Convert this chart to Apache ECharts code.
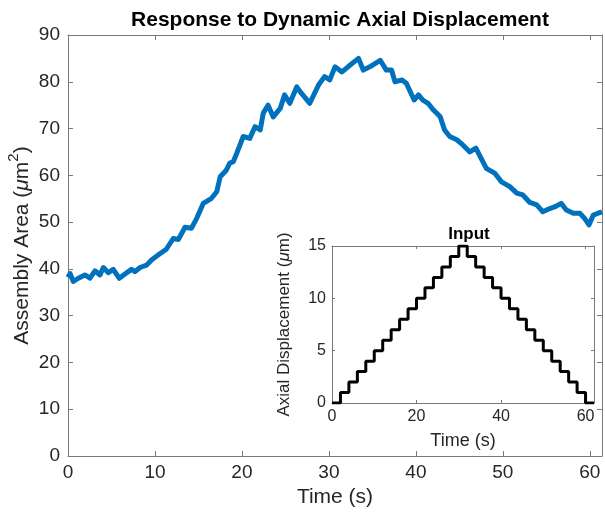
<!DOCTYPE html>
<html>
<head>
<meta charset="utf-8">
<script src="https://cdn.jsdelivr.net/npm/echarts@6/dist/echarts.min.js"></script>
<style>
  html, body { margin: 0; padding: 0; background: #fff; }
  #main { width: 605px; height: 519px; }
</style>
</head>
<body>
<div id="main"></div>
<script>
// main response curve (time s, area um^2)
var respTime = [0, 0.23, 0.61, 1.19, 1.95, 2.53, 3.1, 3.68, 4.06, 4.64, 5.2, 5.9, 6.55, 7.3, 7.7, 8.28, 9.04, 9.6,
  10.4, 11.3, 12.1, 12.7, 13.45, 14.2, 14.8, 15.55, 16.5, 17.1, 17.5, 18.2, 18.6, 19.0, 19.4, 20.15, 20.9, 21.5,
  22.1, 22.45, 23.0, 23.6, 24.4, 24.9, 25.5, 26.3, 26.85, 27.8, 28.8, 29.5, 30.1, 30.7, 31.5, 32.2, 33.4, 33.95,
  34.7, 35.9, 36.6, 37.2, 37.6, 38.4, 38.9, 39.8, 40.3, 40.8, 41.4, 42.0, 42.8, 43.3, 43.9, 44.7, 45.4, 46.2,
  46.9, 47.4, 48.1, 49.1, 49.85, 50.8, 51.6, 52.3, 53.1, 53.9, 54.6, 55.4, 56.0, 56.7, 57.3, 58.1, 58.85, 59.4,
  59.9, 60.4, 60.95, 61.4];
var respArea = [38.2, 39.0, 37.3, 38.0, 38.7, 38.0, 39.6, 38.7, 40.3, 39.2, 39.9, 38.0, 38.9, 39.9, 39.4, 40.3, 40.8, 41.9,
  43.0, 44.2, 46.5, 46.3, 48.9, 48.7, 50.8, 54.0, 55.1, 56.5, 59.7, 61.1, 62.6, 62.9, 64.7, 68.3, 67.9, 70.4,
  69.7, 73.3, 75.0, 72.5, 74.3, 77.2, 75.4, 78.9, 77.5, 75.4, 79.3, 81.1, 80.4, 83.2, 82.1, 83.2, 85.0, 82.5,
  83.2, 84.6, 82.5, 82.5, 80.0, 80.4, 79.7, 76.1, 77.2, 76.1, 75.4, 74.0, 72.5, 69.7, 68.3, 67.6, 66.5, 65.0,
  65.8, 64.0, 61.5, 60.4, 58.6, 57.6, 56.2, 55.8, 54.2, 53.7, 52.2, 52.9, 53.3, 54.0, 52.6, 51.9, 51.9, 50.8,
  49.4, 51.5, 51.9, 52.2];

// input staircase (time s, displacement um)
var inputTime = [0, 2, 4, 6, 8, 10, 12, 14, 16, 18, 20, 22, 24, 26, 28, 30,
  32, 34, 36, 38, 40, 42, 44, 46, 48, 50, 52, 54, 56, 58, 60, 62];
var inputDisp = [0, 1, 2, 3, 4, 5, 6, 7, 8, 9, 10, 11, 12, 13, 14, 15,
  14, 13, 12, 11, 10, 9, 8, 7, 6, 5, 4, 3, 2, 1, 0, 0];

var mainXTicks = [0, 10, 20, 30, 40, 50, 60];
var mainYTicks = [0, 10, 20, 30, 40, 50, 60, 70, 80, 90];
var insetXTicks = [0, 20, 40, 60];
var insetYTicks = [0, 5, 10, 15];

var FONT = 'Liberation Sans';
var AXIS_COL = '#7a7a7a';
var TEXT_COL = '#262626';

function zip(a, b) {
  var out = [];
  for (var i = 0; i < a.length; i++) out.push([a[i], b[i]]);
  return out;
}

// box side axis: line + inward ticks, no labels
function sideAxis(gridIndex, position, min, max, interval, tickLen) {
  return {
    gridIndex: gridIndex, type: 'value', position: position,
    min: min, max: max, interval: interval,
    axisLine: { show: true, onZero: false, lineStyle: { color: AXIS_COL, width: 1 } },
    axisTick: { show: true, inside: true, length: tickLen, lineStyle: { color: AXIS_COL } },
    axisLabel: { show: false },
    splitLine: { show: false }
  };
}

var chart = echarts.init(document.getElementById('main'), null, { renderer: 'canvas' });

var option = {
  backgroundColor: '#fff',
  animation: false,
  title: [{
    text: 'Response to Dynamic Axial Displacement',
    left: 335, top: 5, textAlign: 'center',
    textStyle: { fontFamily: FONT, fontSize: 21, fontWeight: 'bold', color: '#000' }
  }, {
    text: 'Input',
    left: 464, top: 221, textAlign: 'center',
    textStyle: { fontFamily: FONT, fontSize: 17, fontWeight: 'bold', color: '#000' }
  }],
  grid: [
    { left: 68, right: 3, top: 35, bottom: 63, outerBoundsMode: 'none', containLabel: false },
    { left: 332, right: 11, top: 246, bottom: 116, outerBoundsMode: 'none', containLabel: false,
      show: true, backgroundColor: '#fff', borderWidth: 0, z: 5 }
  ],
  xAxis: [
    {
      gridIndex: 0, type: 'value', position: 'bottom',
      min: mainXTicks[0], max: 61.4, interval: 10,
      name: 'Time (s)', nameLocation: 'middle', nameGap: 31,
      nameTextStyle: { fontFamily: FONT, fontSize: 21, color: TEXT_COL },
      axisLine: { show: true, onZero: false, lineStyle: { color: AXIS_COL, width: 1 } },
      axisTick: { show: true, inside: true, length: 5, lineStyle: { color: AXIS_COL } },
      axisLabel: { fontFamily: FONT, fontSize: 19, color: TEXT_COL, margin: 7, showMaxLabel: false },
      splitLine: { show: false }
    },
    sideAxis(0, 'top', 0, 61.4, 10, 5),
    {
      gridIndex: 1, type: 'value', position: 'bottom',
      min: insetXTicks[0], max: 62, interval: 20,
      name: 'Time (s)', nameLocation: 'middle', nameGap: 29,
      nameTextStyle: { fontFamily: FONT, fontSize: 18, color: TEXT_COL },
      axisLine: { show: true, onZero: false, lineStyle: { color: AXIS_COL, width: 1 } },
      axisTick: { show: true, inside: true, length: 3, lineStyle: { color: AXIS_COL } },
      axisLabel: { fontFamily: FONT, fontSize: 16, color: TEXT_COL, margin: 6, showMaxLabel: false },
      splitLine: { show: false }, z: 6
    },
    Object.assign(sideAxis(1, 'top', 0, 62, 20, 3), { z: 6 })
  ],
  yAxis: [
    {
      gridIndex: 0, type: 'value', position: 'left',
      min: mainYTicks[0], max: 90, interval: 10,
      name: 'Assembly Area ({mu|μ}m{sup|2})', nameLocation: 'middle', nameGap: 30,
      nameMoveOverlap: false,
      nameTextStyle: {
        fontFamily: FONT, fontSize: 21, color: TEXT_COL, lineHeight: 32,
        rich: {
          mu: { fontFamily: FONT, fontSize: 21, lineHeight: 32, fontStyle: 'italic', color: TEXT_COL },
          sup: { fontFamily: FONT, fontSize: 15, lineHeight: 15, color: TEXT_COL, verticalAlign: 'top' }
        }
      },
      axisLine: { show: true, onZero: false, lineStyle: { color: AXIS_COL, width: 1 } },
      axisTick: { show: true, inside: true, length: 5, lineStyle: { color: AXIS_COL } },
      axisLabel: { fontFamily: FONT, fontSize: 19, color: TEXT_COL, margin: 8 },
      splitLine: { show: false }
    },
    sideAxis(0, 'right', 0, 90, 10, 5),
    {
      gridIndex: 1, type: 'value', position: 'left',
      min: insetYTicks[0], max: 15, interval: 5,
      name: 'Axial Displacement ({mu|μ}m)', nameLocation: 'middle', nameGap: 39,
      nameTextStyle: {
        fontFamily: FONT, fontSize: 17, color: TEXT_COL,
        rich: { mu: { fontFamily: FONT, fontSize: 17, fontStyle: 'italic', color: TEXT_COL } }
      },
      axisLine: { show: true, onZero: false, lineStyle: { color: AXIS_COL, width: 1 } },
      axisTick: { show: true, inside: true, length: 3, lineStyle: { color: AXIS_COL } },
      axisLabel: { fontFamily: FONT, fontSize: 16, color: TEXT_COL, margin: 6 },
      splitLine: { show: false }, z: 6
    },
    Object.assign(sideAxis(1, 'right', 0, 15, 5, 3), { z: 6 })
  ],
  series: [
    {
      type: 'line', xAxisIndex: 0, yAxisIndex: 0,
      data: zip(respTime, respArea),
      showSymbol: false, smooth: false,
      lineStyle: { color: '#0072BD', width: 5, join: 'round' },
      z: 2
    },
    {
      type: 'line', xAxisIndex: 2, yAxisIndex: 2,
      data: zip(inputTime, inputDisp),
      step: 'end', showSymbol: false,
      lineStyle: { color: '#000', width: 3 },
      z: 7
    }
  ]
};

chart.setOption(option);
</script>
</body>
</html>
